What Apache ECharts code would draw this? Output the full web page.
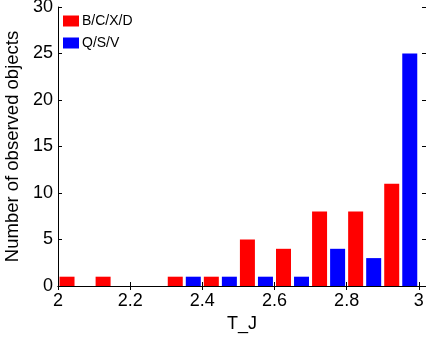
<!DOCTYPE html>
<html>
<head>
<meta charset="utf-8">
<script src="https://cdn.jsdelivr.net/npm/echarts@6/dist/echarts.min.js"></script>
<style>
  html, body { margin: 0; padding: 0; background: #fff; }
  #chart { width: 426px; height: 337px; }
</style>
</head>
<body>
<div id="chart"></div>
<script>
// bin lower edges (width 0.1), counts per class
const binStarts = [2.0, 2.1, 2.2, 2.3, 2.4, 2.5, 2.6, 2.7, 2.8, 2.9];
const bcxdCounts = [1, 1, 0, 1, 1, 5, 4, 8, 8, 11];
const qsvCounts = [0, 0, 0, 1, 1, 1, 1, 4, 3, 25];
const xTicks = [2, 2.2, 2.4, 2.6, 2.8, 3];
const yTicks = [0, 5, 10, 15, 20, 25, 30];

const binWidth = 0.1;
// red sits in left half of each bin, blue in right half; empty bins drawn as nothing
const redData = binStarts.map((b, i) => [b + binWidth * 0.25, bcxdCounts[i] || "-"]);
const blueData = binStarts.map((b, i) => [b + binWidth * 0.75, qsvCounts[i] || "-"]);

const font = "'Liberation Sans', Arial, sans-serif";
const tick = { show: true, inside: true, length: 4, lineStyle: { color: "#000", width: 1 } };
const line = { show: true, lineStyle: { color: "#000", width: 1 } };

const chart = echarts.init(document.getElementById("chart"));
chart.setOption({
  animation: false,
  textStyle: { fontFamily: font },
  grid: { left: 58, right: 0, top: 7, bottom: 51, containLabel: false, outerBoundsMode: "none" },
  legend: {
    orient: "vertical",
    left: 58,
    top: 9,
    itemWidth: 16,
    itemHeight: 11,
    itemGap: 8,
    textStyle: { fontFamily: font, fontSize: 14, color: "#000", padding: [0, 0, 0, -2] },
    data: [
      { name: "B/C/X/D", icon: "rect" },
      { name: "Q/S/V", icon: "rect" },
    ],
  },
  xAxis: [
    {
      type: "value",
      min: xTicks[0],
      max: 3.02,
      interval: 0.2,
      name: "T_J",
      nameLocation: "middle",
      nameGap: 26,
      nameTextStyle: { fontFamily: font, fontSize: 18, color: "#000" },
      axisLine: line,
      axisTick: tick,
      splitLine: { show: false },
      axisLabel: {
        fontFamily: font,
        fontSize: 18,
        color: "#000",
        margin: 6,
        showMaxLabel: false,
        formatter: (v) => (xTicks.some((t) => Math.abs(t - v) < 1e-6) ? String(+v.toFixed(1)) : ""),
      },
    },
    {
      type: "value",
      position: "top",
      min: xTicks[0],
      max: 3.02,
      interval: 0.2,
      axisLine: line,
      axisTick: tick,
      axisLabel: { show: false },
      splitLine: { show: false },
    },
  ],
  yAxis: [
    {
      type: "value",
      min: yTicks[0],
      max: yTicks[yTicks.length - 1],
      interval: 5,
      name: "Number of observed objects",
      nameLocation: "middle",
      nameGap: 27,
      nameTextStyle: { fontFamily: font, fontSize: 18.5, color: "#000" },
      axisLine: line,
      axisTick: tick,
      splitLine: { show: false },
      axisLabel: { fontFamily: font, fontSize: 18, color: "#000", margin: 5 },
    },
    {
      type: "value",
      position: "right",
      min: yTicks[0],
      max: yTicks[yTicks.length - 1],
      interval: 5,
      axisLine: line,
      axisTick: tick,
      axisLabel: { show: false },
      splitLine: { show: false },
    },
  ],
  series: [
    {
      name: "B/C/X/D",
      type: "bar",
      data: redData,
      barWidth: 15,
      barGap: "-100%",
      itemStyle: { color: "#ff0000" },
    },
    {
      name: "Q/S/V",
      type: "bar",
      data: blueData,
      barWidth: 15,
      barGap: "-100%",
      itemStyle: { color: "#0000ff" },
    },
  ],
});
</script>
</body>
</html>
